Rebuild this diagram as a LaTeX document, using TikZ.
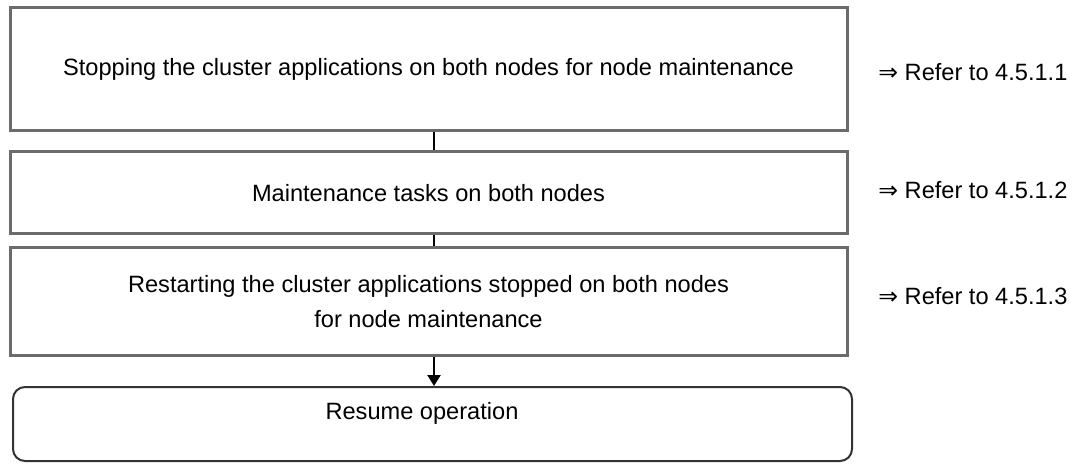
\documentclass[tikz,border=0pt]{standalone}
\usepackage{fontspec}
\setmainfont{Liberation Sans}
\newfontfamily\symfont{DejaVu Sans}
\usetikzlibrary{calc,positioning,arrows.meta}
\tikzset{
  stepbox/.style={draw=black!58,line width=1.5pt,minimum width=418.5pt,align=center,inner sep=0pt},
  endbox/.style={draw=black!80,line width=1pt,rounded corners=6pt,minimum width=419.5pt,minimum height=37pt},
  refnote/.style={anchor=west,inner sep=0pt},
  link/.style={line width=1.2pt}
}
\begin{document}
\begin{tikzpicture}[x=0.5pt,y=-0.5pt,font=\fontsize{11.8pt}{17.5pt}\selectfont,>={Triangle[length=5.5pt,width=6.5pt]}]
  \useasboundingbox (0,0) rectangle (1074,464);
  \node[stepbox,minimum height=61.5pt] (stop) at (428.5,69.5)
    {Stopping the cluster applications on both nodes for node maintenance};
  \node[stepbox,minimum height=41pt] (maint) at (428.5,193)
    {Maintenance tasks on both nodes};
  \node[stepbox,minimum height=53.5pt] (restart) at (428.5,301.5)
    {Restarting the cluster applications stopped on both nodes\\for node maintenance};
  \node[endbox] (resume) at (432.5,424) {};
  \node (resumetext) at (422,413) {Resume operation};
  % references
  \node[refnote] (ref1) at (878,72) {{\symfont ⇒} Refer to 4.5.1.1};
  \node[refnote] (ref2) at (878,190) {{\symfont ⇒} Refer to 4.5.1.2};
  \node[refnote] (ref3) at (878,296) {{\symfont ⇒} Refer to 4.5.1.3};
  % flow
  \draw[link] ([xshift=2.75pt]stop.south) -- ([xshift=2.75pt]maint.north);
  \draw[link] ([xshift=2.75pt]maint.south) -- ([xshift=2.75pt]restart.north);
  \draw[link,->] ([xshift=2.75pt]restart.south) -- ([xshift=0.75pt]resume.north);
\end{tikzpicture}
\end{document}
